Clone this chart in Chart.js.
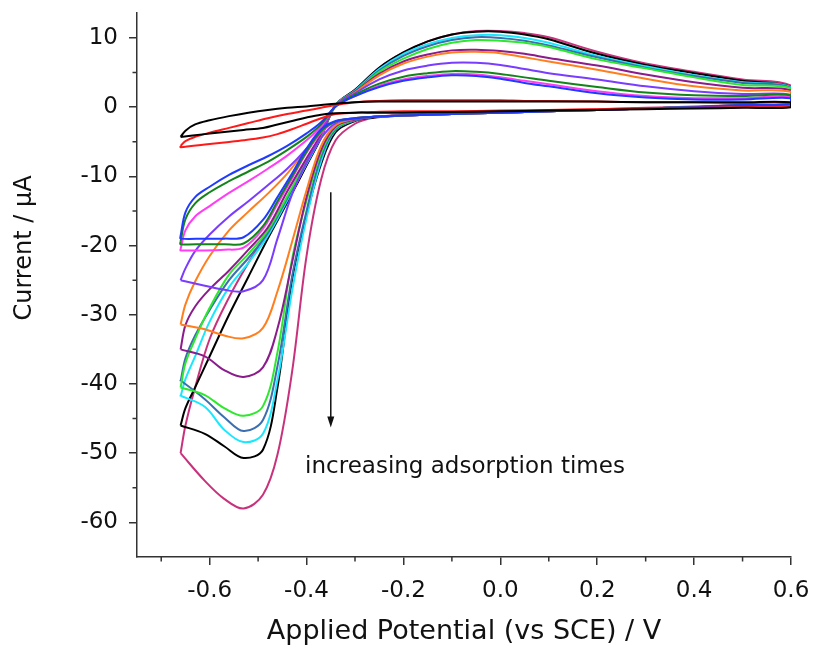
<!DOCTYPE html>
<html>
<head>
<meta charset="utf-8">
<script src="https://cdn.jsdelivr.net/npm/chart.js@4.4.1/dist/chart.umd.min.js"></script>
<style>
  html, body { margin: 0; padding: 0; background: #fff; }
  canvas { display: block; }
</style>
</head>
<body>
<canvas id="chart" width="816" height="650"></canvas>
<script>
// potential steps of the anodic (forward) and cathodic (reverse) sweeps, V vs SCE
const potentialsForward = [-0.66, -0.65, -0.63, -0.60, -0.56, -0.52, -0.48, -0.44, -0.40, -0.37, -0.34, -0.30, -0.25, -0.20, -0.15, -0.10, -0.05, 0.00, 0.05, 0.10, 0.20, 0.30, 0.40, 0.50, 0.60];
const potentialsReverse = [0.60, 0.50, 0.40, 0.30, 0.20, 0.10, 0.00, -0.10, -0.20, -0.26, -0.30, -0.34, -0.37, -0.40, -0.43, -0.46, -0.49, -0.53, -0.57, -0.61, -0.66];

// currents in µA, one forward / reverse pair per voltammogram
const blankBlackFwd = [-4.3, -3.4, -2.5, -1.9, -1.3, -0.8, -0.4, -0.1, 0.1, 0.3, 0.5, 0.7, 0.8, 0.8, 0.8, 0.8, 0.8, 0.8, 0.8, 0.8, 0.8, 0.7, 0.7, 0.7, 0.7];
const blankBlackRev = [0.0, -0.1, -0.2, -0.3, -0.4, -0.5, -0.6, -0.7, -0.8, -0.8, -0.8, -0.9, -1.1, -1.5, -2.0, -2.5, -3.0, -3.3, -3.6, -3.9, -4.3];
const blankRedFwd = [-5.6, -4.9, -4.3, -3.7, -3.0, -2.3, -1.6, -1.0, -0.5, -0.1, 0.3, 0.7, 0.9, 1.0, 1.0, 1.0, 1.0, 1.0, 0.9, 0.9, 0.8, 0.7, 0.7, 0.6, 0.6];
const blankRedRev = [0.1, 0.0, -0.1, -0.2, -0.3, -0.4, -0.5, -0.6, -0.6, -0.7, -0.8, -1.0, -1.6, -2.4, -3.2, -3.9, -4.4, -4.8, -5.1, -5.4, -5.8];

const blueFwd = [-18.6, -15.2, -13.0, -11.5, -9.8, -8.4, -7.1, -5.6, -3.8, -2.2, 0.1, 1.6, 2.9, 3.8, 4.3, 4.6, 4.5, 4.1, 3.5, 3.0, 2.0, 1.4, 1.1, 1.1, 1.3];
const blueRev = [0.5, 0.3, 0.0, -0.2, -0.4, -0.6, -0.8, -1.0, -1.2, -1.4, -1.6, -2.0, -3.2, -6.0, -9.6, -13.0, -16.3, -18.8, -19.0, -19.0, -19.0];
const darkGreenFwd = [-19.4, -16.2, -13.9, -12.3, -10.7, -9.3, -7.9, -6.2, -4.3, -2.5, 0.1, 1.8, 3.4, 4.4, 4.9, 5.2, 5.1, 4.8, 4.3, 3.8, 2.9, 2.1, 1.7, 1.6, 1.7];
const darkGreenRev = [0.5, 0.3, 0.0, -0.2, -0.4, -0.6, -0.8, -1.0, -1.2, -1.4, -1.6, -2.1, -3.5, -6.4, -10.0, -13.6, -17.2, -19.7, -19.8, -19.8, -19.8];
const magentaFwd = [-20.5, -17.8, -15.8, -14.3, -12.4, -10.7, -8.9, -7.0, -4.8, -2.8, 0.1, 1.6, 3.1, 4.0, 4.5, 4.8, 4.7, 4.3, 3.8, 3.3, 2.3, 1.6, 1.3, 1.3, 1.5];
const magentaRev = [0.5, 0.3, 0.0, -0.2, -0.4, -0.6, -0.8, -1.0, -1.2, -1.4, -1.6, -2.1, -3.7, -6.6, -10.3, -14.0, -17.6, -20.3, -20.6, -20.7, -20.7];
const violetFwd = [-25.0, -23.3, -20.8, -18.4, -15.8, -13.6, -11.3, -8.9, -6.0, -3.4, 0.2, 2.0, 4.0, 5.3, 6.0, 6.4, 6.4, 6.1, 5.5, 4.9, 4.0, 3.0, 2.3, 1.9, 1.8];
const violetRev = [0.4, 0.2, 0.0, -0.2, -0.4, -0.6, -0.8, -1.0, -1.2, -1.4, -1.7, -2.3, -4.5, -8.0, -12.6, -19.0, -25.0, -26.6, -26.4, -25.8, -25.0];
const orangeFwd = [-31.4, -28.5, -25.2, -21.5, -17.8, -15.1, -12.5, -9.6, -6.0, -3.3, 0.2, 2.1, 4.6, 6.3, 7.3, 7.9, 8.0, 7.8, 7.2, 6.6, 5.4, 4.1, 3.0, 2.4, 2.2];
const orangeRev = [0.4, 0.2, 0.0, -0.2, -0.4, -0.6, -0.8, -1.0, -1.2, -1.4, -1.7, -2.6, -5.6, -12.0, -19.5, -26.6, -31.9, -33.4, -33.0, -32.1, -31.4];
const purpleFwd = [-35.0, -31.5, -28.8, -26.3, -23.6, -20.6, -17.4, -12.2, -7.4, -3.9, 0.2, 2.2, 4.8, 6.6, 7.6, 8.2, 8.3, 8.1, 7.7, 7.1, 6.0, 4.7, 3.6, 2.8, 2.4];
const purpleRev = [0.4, 0.2, 0.0, -0.2, -0.4, -0.6, -0.8, -1.0, -1.2, -1.4, -1.8, -2.8, -6.2, -13.0, -22.5, -32.0, -37.6, -39.0, -38.0, -36.0, -35.0];
const greenFwd = [-40.5, -37.0, -33.5, -29.0, -24.2, -21.2, -17.8, -12.9, -7.8, -4.1, 0.3, 2.2, 5.1, 7.0, 8.4, 9.3, 9.7, 9.6, 9.3, 8.7, 6.9, 5.6, 4.3, 3.2, 2.7];
const greenRev = [0.4, 0.2, 0.0, -0.2, -0.4, -0.6, -0.8, -1.0, -1.2, -1.4, -1.8, -3.0, -6.6, -13.5, -22.0, -35.4, -43.2, -44.6, -43.5, -41.6, -40.5];
const steelFwd = [-39.6, -36.3, -33.0, -29.3, -25.0, -21.8, -18.2, -13.2, -8.0, -4.2, 0.3, 2.3, 5.3, 7.4, 8.8, 9.7, 10.1, 10.0, 9.6, 8.9, 7.2, 5.7, 4.5, 3.5, 2.8];
const steelRev = [0.4, 0.2, 0.0, -0.2, -0.4, -0.6, -0.8, -1.0, -1.2, -1.4, -1.9, -3.2, -7.2, -15.0, -24.5, -37.4, -45.2, -46.8, -44.8, -42.2, -39.5];
const cyanFwd = [-41.8, -39.3, -36.0, -31.0, -26.0, -22.5, -18.6, -13.5, -8.2, -4.3, 0.3, 2.4, 5.5, 7.7, 9.1, 10.0, 10.4, 10.4, 10.0, 9.3, 7.4, 5.9, 4.6, 3.6, 2.9];
const cyanRev = [0.4, 0.2, 0.0, -0.2, -0.4, -0.6, -0.8, -1.0, -1.2, -1.4, -1.9, -3.3, -7.8, -16.0, -26.6, -39.4, -47.2, -48.4, -46.6, -43.3, -41.7];
const blackFwd = [-46.0, -43.5, -40.5, -36.0, -30.0, -24.5, -19.0, -13.8, -8.4, -4.4, 0.3, 2.5, 5.7, 7.9, 9.5, 10.5, 10.9, 10.9, 10.5, 9.8, 7.7, 6.1, 4.9, 3.8, 2.9];
const blackRev = [0.4, 0.2, 0.0, -0.2, -0.4, -0.6, -0.8, -1.0, -1.2, -1.5, -2.0, -3.6, -8.2, -15.5, -25.0, -40.5, -49.5, -50.7, -49.0, -47.2, -46.0];
const crimsonFwd = [-50.0, -46.0, -40.5, -33.5, -27.5, -22.5, -18.0, -13.6, -8.4, -4.4, 0.3, 2.5, 5.7, 7.9, 9.5, 10.5, 11.0, 11.0, 10.7, 10.1, 8.0, 6.3, 5.1, 4.0, 3.1];
const crimsonRev = [0.5, 0.3, 0.1, -0.1, -0.3, -0.5, -0.7, -0.9, -1.1, -1.5, -2.4, -4.8, -10.5, -21.5, -38.3, -50.2, -56.0, -58.0, -56.6, -54.0, -50.0];

const sweepsForward = [blankBlackFwd, blankRedFwd, blueFwd, darkGreenFwd, magentaFwd, violetFwd, orangeFwd, purpleFwd, greenFwd, steelFwd, cyanFwd, blackFwd, crimsonFwd];
const sweepsReverse = [blankBlackRev, blankRedRev, blueRev, darkGreenRev, magentaRev, violetRev, orangeRev, purpleRev, greenRev, steelRev, cyanRev, blackRev, crimsonRev];
const sweepColors = ["#000000", "#ff1a1a", "#1f3bff", "#12841a", "#ff3df5", "#7a3cff", "#ff7f1e", "#8b1c8b", "#2ee82e", "#3b6fb0", "#18e8ff", "#000000", "#c8327c"];

const xTicks = [-0.6, -0.4, -0.2, 0.0, 0.2, 0.4, 0.6];
const xMinorTicks = [-0.7, -0.5, -0.3, -0.1, 0.1, 0.3, 0.5];
const yTicks = [-60, -50, -40, -30, -20, -10, 0, 10];
const yMinorTicks = [-55, -45, -35, -25, -15, -5, 5];

// arrow and note inside the plot, in data units
const arrowPotential = -0.35;
const arrowFrom = -12.3;
const arrowTo = -46.3;
const noteText = "increasing adsorption times";
const notePotential = -0.403;
const noteCurrent = -52.9;

const FONT = "'DejaVu Sans', sans-serif";
const INK = "#111111";
const AXIS = "#333333";

function buildLoop(fwd, rev) {
  const pts = fwd.map((y, i) => ({ x: potentialsForward[i], y: y }));
  rev.forEach((y, i) => pts.push({ x: potentialsReverse[i], y: y }));
  pts.push({ x: potentialsForward[0], y: fwd[0] });
  return pts;
}

const datasets = sweepsForward.map((fwd, i) => ({
  data: buildLoop(fwd, sweepsReverse[i]),
  borderColor: sweepColors[i],
  borderWidth: 2,
  pointRadius: 0,
  showLine: true,
  fill: false,
  tension: 0.35
}));

const decorations = {
  id: "decorations",
  afterDraw(chart) {
    const ctx = chart.ctx;
    const xs = chart.scales.x;
    const ys = chart.scales.y;
    const area = chart.chartArea;
    ctx.save();

    // minor ticks
    ctx.strokeStyle = AXIS;
    ctx.lineWidth = 1.5;
    ctx.beginPath();
    xMinorTicks.forEach(v => {
      const px = xs.getPixelForValue(v);
      ctx.moveTo(px, area.bottom);
      ctx.lineTo(px, area.bottom + 4.5);
    });
    yMinorTicks.forEach(v => {
      const py = ys.getPixelForValue(v);
      ctx.moveTo(area.left, py);
      ctx.lineTo(area.left - 4.5, py);
    });
    ctx.stroke();

    // arrow
    const ax = xs.getPixelForValue(arrowPotential);
    const ay1 = ys.getPixelForValue(arrowFrom);
    const ay2 = ys.getPixelForValue(arrowTo);
    ctx.strokeStyle = INK;
    ctx.fillStyle = INK;
    ctx.lineWidth = 1.5;
    ctx.beginPath();
    ctx.moveTo(ax, ay1);
    ctx.lineTo(ax, ay2 - 8);
    ctx.stroke();
    ctx.beginPath();
    ctx.moveTo(ax, ay2);
    ctx.lineTo(ax - 3.5, ay2 - 11);
    ctx.lineTo(ax + 3.5, ay2 - 11);
    ctx.closePath();
    ctx.fill();

    // note
    ctx.font = "23px " + FONT;
    ctx.textAlign = "left";
    ctx.textBaseline = "alphabetic";
    ctx.fillText(noteText, xs.getPixelForValue(notePotential), ys.getPixelForValue(noteCurrent));

    // axis titles
    ctx.font = "27px " + FONT;
    ctx.textAlign = "center";
    ctx.textBaseline = "middle";
    ctx.fillText("Applied Potential (vs SCE) / V", (area.left + area.right) / 2, 632);
    ctx.translate(25, 248);
    ctx.rotate(-Math.PI / 2);
    ctx.font = "24px " + FONT;
    ctx.fillText("Current / µA", 0, 0);
    ctx.restore();
  }
};

new Chart(document.getElementById("chart"), {
  type: "scatter",
  data: { datasets: datasets },
  options: {
    responsive: false,
    animation: false,
    layout: { padding: { left: 0, right: 25, top: 13, bottom: 0 } },
    plugins: {
      legend: { display: false },
      tooltip: { enabled: false }
    },
    scales: {
      x: {
        type: "linear",
        min: -0.75,
        max: 0.6,
        afterBuildTicks: s => { s.ticks = xTicks.map(v => ({ value: v })); },
        afterFit: s => { s.height = 93; s.paddingLeft = 0; s.paddingRight = 0; },
        ticks: {
          autoSkip: false,
          maxRotation: 0,
          padding: 12,
          color: INK,
          font: { family: FONT, size: 23 },
          callback: v => Number(v).toFixed(1)
        },
        grid: { drawOnChartArea: false, tickLength: 8, color: AXIS, lineWidth: 1.5 },
        border: { display: true, color: AXIS, width: 1.5 }
      },
      y: {
        type: "linear",
        min: -65,
        max: 13.6,
        afterBuildTicks: s => { s.ticks = yTicks.map(v => ({ value: v })); },
        afterFit: s => { s.width = 137; s.paddingTop = 0; s.paddingBottom = 0; },
        ticks: {
          autoSkip: false,
          padding: 11,
          color: INK,
          font: { family: FONT, size: 23 },
          callback: v => String(v)
        },
        grid: { drawOnChartArea: false, tickLength: 8, color: AXIS, lineWidth: 1.5 },
        border: { display: true, color: AXIS, width: 1.5 }
      }
    }
  },
  plugins: [decorations]
});
</script>
</body>
</html>
